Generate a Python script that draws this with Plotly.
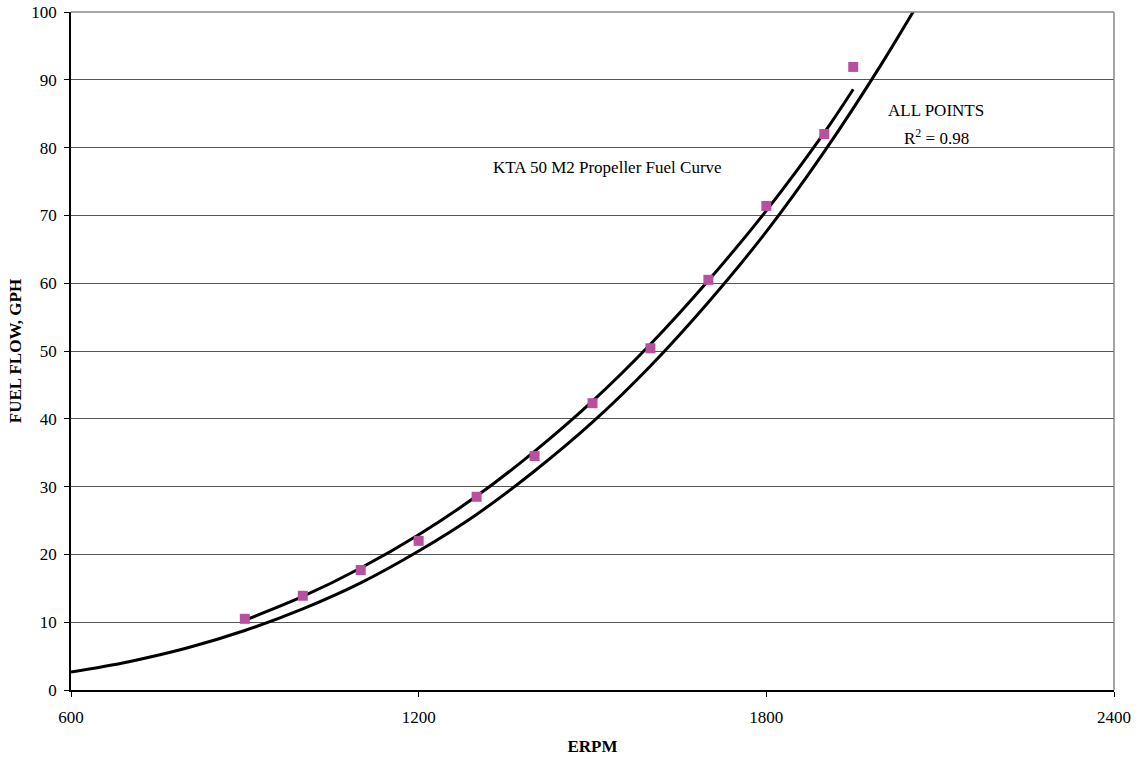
import plotly.graph_objects as go

# Measured points
rpm_points = [900, 1000, 1100, 1200, 1300, 1400, 1500, 1600, 1700, 1800, 1900, 1950]
gph_points = [10.5, 13.9, 17.7, 22.0, 28.5, 34.5, 42.3, 50.4, 60.5, 71.4, 82.0, 91.9]

# Trend line through all points
rpm_trend = [900, 1000, 1100, 1200, 1300, 1400, 1500, 1600, 1700, 1800, 1900, 1950]
gph_trend = [10.3, 13.8, 18.0, 22.9, 28.6, 35.2, 42.6, 51.0, 60.4, 70.7, 82.2, 88.6]

# KTA 50 M2 propeller fuel curve
rpm_prop = [600, 700, 800, 900, 1000, 1100, 1200, 1300, 1400, 1500, 1600, 1700, 1800, 1900, 2000, 2100]
gph_prop = [2.65, 4.18, 6.19, 8.77, 11.96, 15.8, 20.5, 25.9, 32.3, 39.5, 47.8, 57.2, 67.6, 79.4, 92.5, 106.8]

x_ticks = [600, 1200, 1800, 2400]
y_ticks = [0, 10, 20, 30, 40, 50, 60, 70, 80, 90, 100]

FONT = "Liberation Serif, Times New Roman, serif"

fig = go.Figure()
fig.add_trace(go.Scatter(x=rpm_prop, y=gph_prop, mode="lines", line=dict(color="black", width=3, shape="spline"),
                         showlegend=False, hoverinfo="skip"))
fig.add_trace(go.Scatter(x=rpm_trend, y=gph_trend, mode="lines", line=dict(color="black", width=3, shape="spline"),
                         showlegend=False, hoverinfo="skip"))
fig.add_trace(go.Scatter(x=rpm_points, y=gph_points, mode="markers",
                         marker=dict(symbol="square", size=10, color="#B8509F", line=dict(width=0)),
                         showlegend=False, cliponaxis=False))

fig.add_annotation(x=1526, y=77.1, text="KTA 50 M2 Propeller Fuel Curve", showarrow=False,
                   font=dict(family=FONT, size=17, color="black"))
fig.add_annotation(x=2093, y=85.4, text="ALL POINTS", showarrow=False,
                   font=dict(family=FONT, size=17, color="black"))
fig.add_annotation(x=2093, y=81.6, text="R<sup>2</sup> = 0.98", showarrow=False,
                   font=dict(family=FONT, size=17, color="black"))

# right and top frame
fig.add_shape(type="line", xref="paper", yref="paper", x0=1, x1=1, y0=0, y1=1,
              line=dict(color="#888888", width=1.5))
fig.add_shape(type="line", xref="paper", yref="paper", x0=0, x1=1, y0=1, y1=1,
              line=dict(color="#888888", width=1.5))

fig.update_layout(
    width=1140, height=761,
    margin=dict(l=71, r=26, t=12, b=71),
    paper_bgcolor="white", plot_bgcolor="white",
    font=dict(family=FONT, size=17, color="black"),
    xaxis=dict(range=[600, 2400], tickvals=x_ticks, ticktext=[str(v) for v in x_ticks],
               showgrid=False, zeroline=False, showline=True, linecolor="black", linewidth=1.5,
               ticks="outside", ticklen=5, tickcolor="black", ticklabelstandoff=6, automargin=False,
               tickfont=dict(family=FONT, size=17),
               title=dict(text="<b>ERPM</b>", font=dict(family=FONT, size=17), standoff=14)),
    yaxis=dict(range=[0, 100], tickvals=y_ticks, ticktext=[str(v) for v in y_ticks],
               showgrid=True, gridcolor="#555555", gridwidth=1, zeroline=False,
               showline=True, linecolor="black", linewidth=1.5, automargin=False,
               ticks="outside", ticklen=5, tickcolor="black", ticklabelstandoff=4,
               tickfont=dict(family=FONT, size=17),
               title=dict(text="<b>FUEL FLOW, GPH</b>", font=dict(family=FONT, size=17), standoff=5)),
)

fig.write_html("out.html")
